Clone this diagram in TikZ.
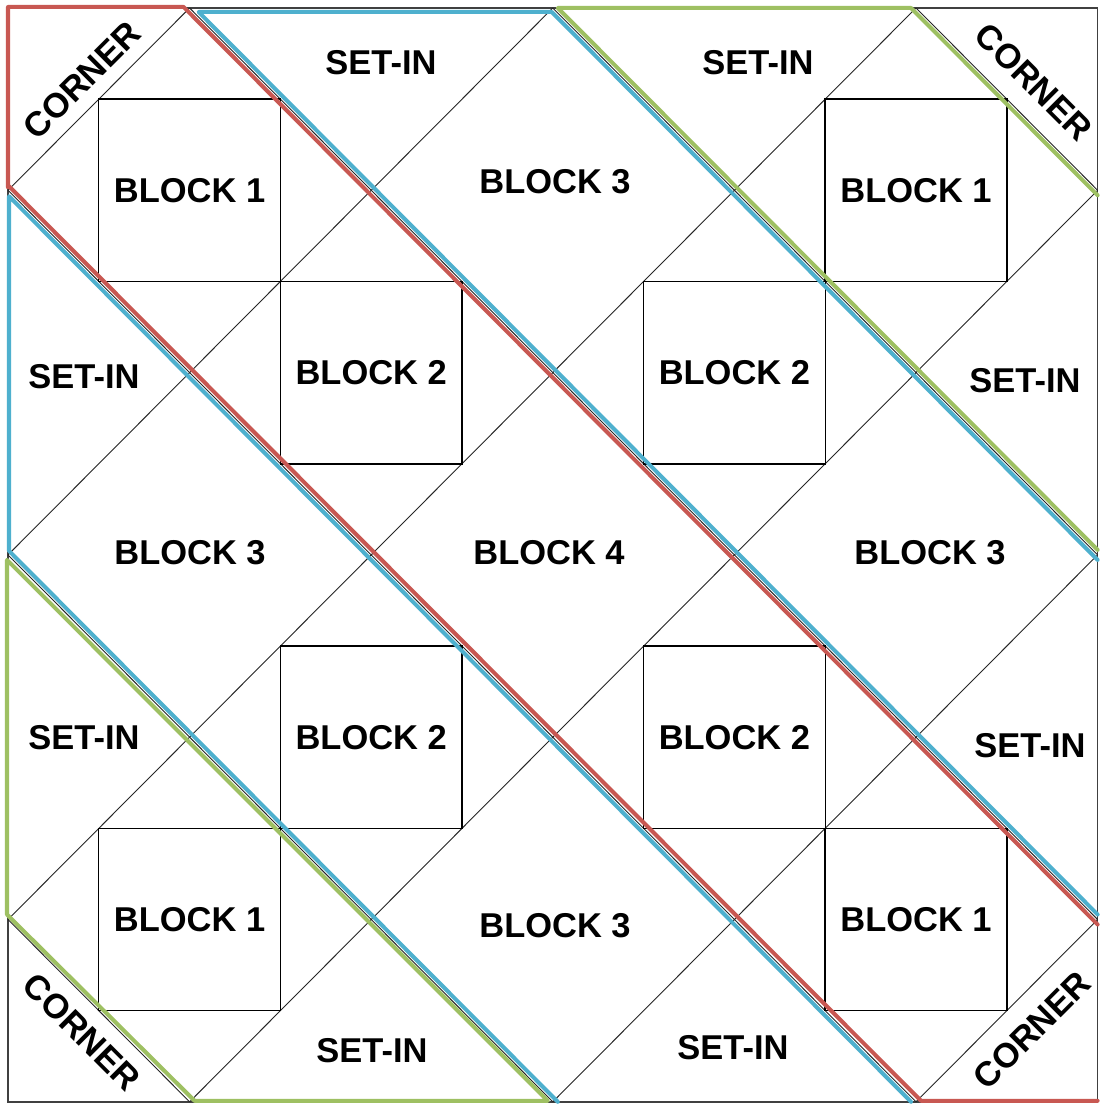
\documentclass[tikz,border=0pt]{standalone}
\usepackage{fontspec}
\setmainfont{Liberation Sans}
\usetikzlibrary{calc}
\definecolor{qred}{RGB}{200,88,82}
\definecolor{qblue}{RGB}{78,176,206}
\definecolor{qgreen}{RGB}{158,192,98}
\newcommand{\qlbl}{\fontsize{9.8pt}{11pt}\selectfont\bfseries}
\begin{document}
\begin{tikzpicture}[x=0.01cm,y=-0.01cm,
  lattice/.style={line width=0.26pt, black!85},
  border/.style={line width=0.4pt, black!75},
  blocksq/.style={draw, line width=0.42pt, minimum width=1.816cm, minimum height=1.823cm, inner sep=0pt, outer sep=0pt, font=\qlbl},
  lbl/.style={font=\qlbl, inner sep=0pt},
  strip/.style={line width=1.14pt, line join=round, line cap=round},
]
\useasboundingbox (0,0) rectangle (1099,1104);
\fill[white] (0,0) rectangle (1099,1104);

% grid points
\coordinate (c00) at (8,8);
\coordinate (c66) at (1097.6,1101.8);
\coordinate (T1) at (189.6,8);
\coordinate (T3) at (552.8,8);
\coordinate (T5) at (916,8);
\coordinate (L1) at (8,190.3);
\coordinate (L3) at (8,554.9);
\coordinate (L5) at (8,919.5);
\coordinate (R1) at (1097.6,190.3);
\coordinate (R3) at (1097.6,554.9);
\coordinate (R5) at (1097.6,919.5);
\coordinate (B1) at (189.6,1101.8);
\coordinate (B3) at (552.8,1101.8);
\coordinate (B5) at (916,1101.8);

% outer border
\draw[border] (c00) rectangle (c66);

% diagonal lattice
\draw[lattice] (T1)--(L1) (T3)--(L3) (T5)--(L5) (R1)--(B1) (R3)--(B3) (R5)--(B5)
  (T5)--(R1) (T3)--(R3) (T1)--(R5) (L1)--(B5) (L3)--(B3) (L5)--(B1);

% squares
\node[blocksq] (s11) at (189.6,190.3) {BLOCK 1};
\node[blocksq] (s51) at (916,190.3) {BLOCK 1};
\node[blocksq] (s22) at (371.2,372.6) {BLOCK 2};
\node[blocksq] (s42) at (734.4,372.6) {BLOCK 2};
\node[blocksq] (s24) at (371.2,737.2) {BLOCK 2};
\node[blocksq] (s44) at (734.4,737.2) {BLOCK 2};
\node[blocksq] (s15) at (189.6,919.5) {BLOCK 1};
\node[blocksq] (s55) at (916,919.5) {BLOCK 1};

% diamond labels
\node[lbl] (b3t) at (555,182) {BLOCK 3};
\node[lbl] (b3l) at (190,553) {BLOCK 3};
\node[lbl] (b3r) at (930,553) {BLOCK 3};
\node[lbl] (b3b) at (555,926) {BLOCK 3};
\node[lbl] (b4) at (549,553) {BLOCK 4};

\node[lbl] (st1) at (381,63) {SET-IN};
\node[lbl] (st2) at (758,63) {SET-IN};
\node[lbl] (sl1) at (84,377) {SET-IN};
\node[lbl] (sr1) at (1025,381) {SET-IN};
\node[lbl] (sl2) at (84,738) {SET-IN};
\node[lbl] (sr2) at (1030,746) {SET-IN};
\node[lbl] (sb1) at (372,1051) {SET-IN};
\node[lbl] (sb2) at (733,1048) {SET-IN};

\node[lbl, rotate=45] (ctl) at (82,80) {CORNER};
\node[lbl, rotate=-45] (ctr) at (1034,82) {CORNER};
\node[lbl, rotate=-45] (cbl) at (82,1032) {CORNER};
\node[lbl, rotate=45] (cbr) at (1032,1030) {CORNER};

% coloured strips
\draw[strip, qred] ($(L1)+(0,-3)$) -- ($(c00)+(0,-1)$) -- ($(T1)+(-6,-1)$) -- ($(R5)+(0,5)$);
\draw[strip, qred] ($(L1)+(1,-4)$) -- ($(B5)+(5,-1)$) -- ($(c66)+(0,-1)$);
\draw[strip, qblue] ($(R5)+(0,-5)$) -- ($(T1)+(9,4)$) -- ($(T3)+(-1,4)$) -- ($(R3)+(0,5)$);
\draw[strip, qblue] ($(B5)+(-5,0)$) -- ($(L1)+(1,6)$) -- ($(L3)+(1,-4)$) -- ($(B3)+(5,0)$);
\draw[strip, qgreen] ($(R3)+(0,-5)$) -- ($(T3)+(5,0)$) -- ($(T5)+(-5,0)$) -- ($(R1)+(0,5)$);
\draw[strip, qgreen] ($(L3)+(-1,5)$) -- ($(L5)+(-1,-5)$) -- ($(B1)+(5,-1)$) -- ($(B3)+(-5,-1)$) -- cycle;
\end{tikzpicture}
\end{document}
